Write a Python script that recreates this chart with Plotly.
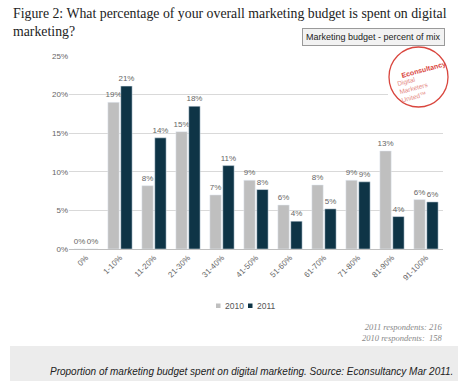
import plotly.graph_objects as go

categories = ["0%", "1-10%", "11-20%", "21-30%", "31-40%", "41-50%",
              "51-60%", "61-70%", "71-80%", "81-90%", "91-100%"]
values_2010 = [0, 19.0, 8.2, 15.2, 7.0, 8.9, 5.7, 8.3, 8.9, 12.7, 6.4]
values_2011 = [0, 21.1, 14.4, 18.5, 10.8, 7.7, 3.6, 5.2, 8.7, 4.2, 6.1]
labels_2010 = ["0%", "19%", "8%", "15%", "7%", "9%", "6%", "8%", "9%", "13%", "6%"]
labels_2011 = ["0%", "21%", "14%", "18%", "11%", "8%", "4%", "5%", "9%", "4%", "6%"]
series_names = ["2010", "2011"]
series_colors = ["#bfbfbf", "#0e3446"]
y_ticks = [0, 5, 10, 15, 20, 25]
y_tick_text = ["0%", "5%", "10%", "15%", "20%", "25%"]

W, H = 472, 384
L, R, T, B = 69, 29, 56, 135
pw, ph = W - L - R, H - T - B


def px(x):
    return (x - L) / pw


def py(y):
    return (H - B - y) / ph


lab_font = dict(family="Liberation Sans, Arial, sans-serif", size=8, color="#666666")

fig = go.Figure()
for name, vals, labs, col in zip(series_names, [values_2010, values_2011],
                                 [labels_2010, labels_2011], series_colors):
    fig.add_trace(go.Bar(
        name=name, x=categories, y=vals, text=labs,
        textposition="outside", textfont=lab_font, cliponaxis=False,
        constraintext="none", marker_color=col, hoverinfo="skip"))

shapes = [
    # caption band
    dict(type="rect", xref="paper", yref="paper", x0=px(10), x1=px(458),
         y0=py(346), y1=py(381), fillcolor="#ececec", line_width=0, layer="below"),
    # white patch behind logo
    dict(type="rect", xref="paper", yref="paper", x0=px(388), x1=px(456),
         y0=py(46), y1=py(116), fillcolor="white", line_width=0, layer="above"),
    # logo circle
    dict(type="circle", xref="paper", yref="paper", x0=px(389), x1=px(448),
         y0=py(47), y1=py(107), fillcolor="white",
         line=dict(color="#d9463e", width=1.3), layer="above"),
    # legend swatches
    dict(type="rect", xref="paper", yref="paper", x0=px(216), x1=px(220.5),
         y0=py(308), y1=py(303.5), fillcolor=series_colors[0], line_width=0),
    dict(type="rect", xref="paper", yref="paper", x0=px(248), x1=px(252.5),
         y0=py(308), y1=py(303.5), fillcolor=series_colors[1], line_width=0),
]

leg_font = dict(family="Liberation Sans, Arial, sans-serif", size=8.5, color="#555555")

annotations = [
    dict(text="Figure 2: What percentage of your overall marketing budget is spent on digital<br>marketing?",
         xref="paper", yref="paper", x=px(11), y=py(4), xanchor="left", yanchor="top",
         align="left", showarrow=False,
         font=dict(family="Liberation Serif, Georgia, serif", size=13.8, color="#222222")),
    dict(text="Marketing budget - percent of mix", xref="paper", yref="paper",
         x=px(373.5), y=py(37), xanchor="center", yanchor="middle", showarrow=False,
         bgcolor="#f2f2f2", bordercolor="#9a9a9a", borderwidth=1, borderpad=3,
         font=dict(family="Liberation Sans, Arial, sans-serif", size=9, color="#222222")),
    dict(text="<b>Econsultancy</b>", xref="paper", yref="paper", x=px(424), y=py(70),
         xanchor="center", yanchor="middle", showarrow=False, textangle=-15,
         font=dict(family="Liberation Sans, Arial, sans-serif", size=7, color="#d9443c")),
    dict(text="Digital<br>Marketers<br>United\u2122", xref="paper", yref="paper",
         x=px(414), y=py(88), xanchor="center", yanchor="middle", showarrow=False,
         textangle=-15, align="left",
         font=dict(family="Liberation Sans, Arial, sans-serif", size=6.5, color="#e58a84")),
    dict(text=series_names[0], xref="paper", yref="paper", x=px(222.5), y=py(306),
         xanchor="left", yanchor="middle", showarrow=False, font=leg_font),
    dict(text=series_names[1], xref="paper", yref="paper", x=px(254.5), y=py(306),
         xanchor="left", yanchor="middle", showarrow=False, font=leg_font),
    dict(text="<i>2011 respondents: 216<br>2010 respondents:  158</i>", xref="paper", yref="paper",
         x=px(444), y=py(320), xanchor="right", yanchor="top", align="right",
         showarrow=False,
         font=dict(family="Liberation Serif, Georgia, serif", size=8.5, color="#888888")),
    dict(text="<i>Proportion of marketing budget spent on digital marketing. Source: Econsultancy Mar 2011.</i>",
         xref="paper", yref="paper", x=px(455), y=py(371), xanchor="right", yanchor="middle",
         showarrow=False,
         font=dict(family="Liberation Sans, Arial, sans-serif", size=10, color="#222222")),
]

fig.update_layout(
    width=W, height=H,
    margin=dict(l=L, r=R, t=T, b=B, autoexpand=False),
    paper_bgcolor="white", plot_bgcolor="white",
    barmode="group", bargap=0.24, bargroupgap=0.12,
    showlegend=False,
    xaxis=dict(tickangle=-45, showgrid=False, showline=True, linecolor="#bfbfbf",
               ticks="", tickfont=lab_font, fixedrange=True, automargin=False),
    yaxis=dict(range=[0, 25], tickvals=y_ticks, ticktext=y_tick_text,
               showgrid=True, gridcolor="#d9d9d9", gridwidth=1, zeroline=False,
               showline=False, ticks="", tickfont=lab_font, ticklen=0,
               fixedrange=True, automargin=False),
    shapes=shapes, annotations=annotations,
)

fig.write_html("out.html",
               config={"displayModeBar": False, "staticPlot": True},
               post_script="document.body.style.margin='0';document.body.style.padding='0';"
                           "document.documentElement.style.overflow='hidden';")
